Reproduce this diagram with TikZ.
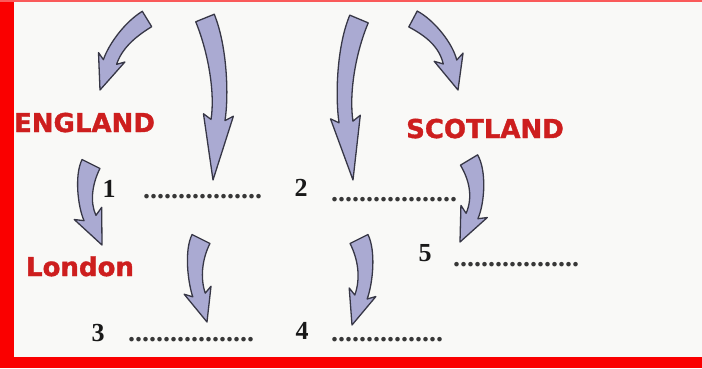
\documentclass[tikz,border=0pt]{standalone}
\usepackage{fontspec}
\setmainfont{Liberation Serif}
\newfontfamily\labelfont{DejaVu Sans}[BoldFeatures={FakeBold=1.4}]
\usetikzlibrary{calc}

\definecolor{framered}{RGB}{250,0,0}
\definecolor{toplinered}{RGB}{250,90,90}
\definecolor{labelred}{RGB}{205,30,30}
\definecolor{arrowfill}{RGB}{170,170,210}
\definecolor{arrowline}{RGB}{55,55,70}
\definecolor{paper}{RGB}{249,249,247}
\definecolor{ink}{RGB}{25,25,25}
\definecolor{dotink}{RGB}{55,55,55}

\tikzset{
  arrowbody/.style={fill=arrowfill, draw=arrowline, line width=1.3pt, line join=round},
  country/.style={text=labelred, font=\labelfont\bfseries\fontsize{26}{26}\selectfont, inner sep=0pt, anchor=base},
  numlabel/.style={text=ink, font=\bfseries\fontsize{26}{26}\selectfont, inner sep=0pt},
  blankline/.style={text=dotink, font=\bfseries\fontsize{28}{28}\selectfont, inner sep=0pt, anchor=base west}
}

% Curved block arrow: tail S, controls C1 C2, head base H, tip P,
% tail half-width, neck half-width, head half-width
\newcommand{\bentarrow}[8]{%
  \coordinate (s) at #1; \coordinate (ca) at #2; \coordinate (cb) at #3;
  \coordinate (h) at #4; \coordinate (p) at #5;
  \coordinate (hb) at ($(h)!-5pt!(p)$);
  \filldraw[arrowbody]
    ($(s)!#6!90:(ca)$) .. controls ($(ca)!#6!-90:(s)$) and ($(cb)!#7!90:(h)$) .. ($(h)!#7!90:(p)$)
    -- ($(hb)!#8!90:(p)$) -- (p) -- ($(hb)!#8!-90:(p)$) -- ($(h)!#7!-90:(p)$)
    .. controls ($(cb)!#7!-90:(h)$) and ($(ca)!#6!90:(s)$) .. ($(s)!#6!-90:(ca)$) -- cycle;
}

\begin{document}
\begin{tikzpicture}[x=1pt, y=-1pt]
  \useasboundingbox (0,0) rectangle (702,368);
  \fill[paper] (0,0) rectangle (702,368);

  % arrows of the top row
  \bentarrow{(147,19)}{(129,30)}{(115,47)}{(110,62)}{(100,90)}{9pt}{7pt}{14pt}
  \bentarrow{(205,18)}{(218,50)}{(222,95)}{(218,120)}{(213,180)}{10pt}{7pt}{15pt}
  \bentarrow{(359,19)}{(346,50)}{(342,95)}{(346,122)}{(353,180)}{10pt}{7pt}{15pt}
  \bentarrow{(413,19)}{(430,28)}{(446,45)}{(450,62)}{(458,90)}{9pt}{7pt}{15pt}

  % arrows of the lower rows
  \bentarrow{(91,164)}{(83,180)}{(84,205)}{(90,218)}{(102,245)}{10pt}{6.5pt}{15pt}
  \bentarrow{(201,239)}{(193,255)}{(194,280)}{(199,295)}{(207,322)}{10pt}{6.5pt}{14pt}
  \bentarrow{(359,239)}{(367,255)}{(367,280)}{(361,297)}{(352,325)}{10pt}{6.5pt}{14pt}
  \bentarrow{(469,160)}{(478,175)}{(479,200)}{(472,216)}{(460,242)}{10pt}{6.5pt}{14.5pt}

  % place names
  \node[country] (england)  at (84.5,132) {ENGLAND};
  \node[country] (scotland) at (485,138) {SCOTLAND};
  \node[country] (london)   at (80,276) {London};

  % numbered blanks
  \node[numlabel] (n1) at (109,189) {1};
  \node[blankline] (b1) at (143,198) {.................};
  \node[numlabel] (n2) at (301,188) {2};
  \node[blankline] (b2) at (331,201) {..................};
  \node[numlabel] (n3) at (98,333) {3};
  \node[blankline] (b3) at (128,341) {..................};
  \node[numlabel] (n4) at (302,331) {4};
  \node[blankline] (b4) at (331,341) {................};
  \node[numlabel] (n5) at (425,253) {5};
  \node[blankline] (b5) at (453,266) {..................};

  % frame
  \fill[framered] (0,0) rectangle (14,368);
  \fill[toplinered] (0,0) rectangle (702,2);
  \fill[framered] (0,357) rectangle (702,368);
\end{tikzpicture}
\end{document}
